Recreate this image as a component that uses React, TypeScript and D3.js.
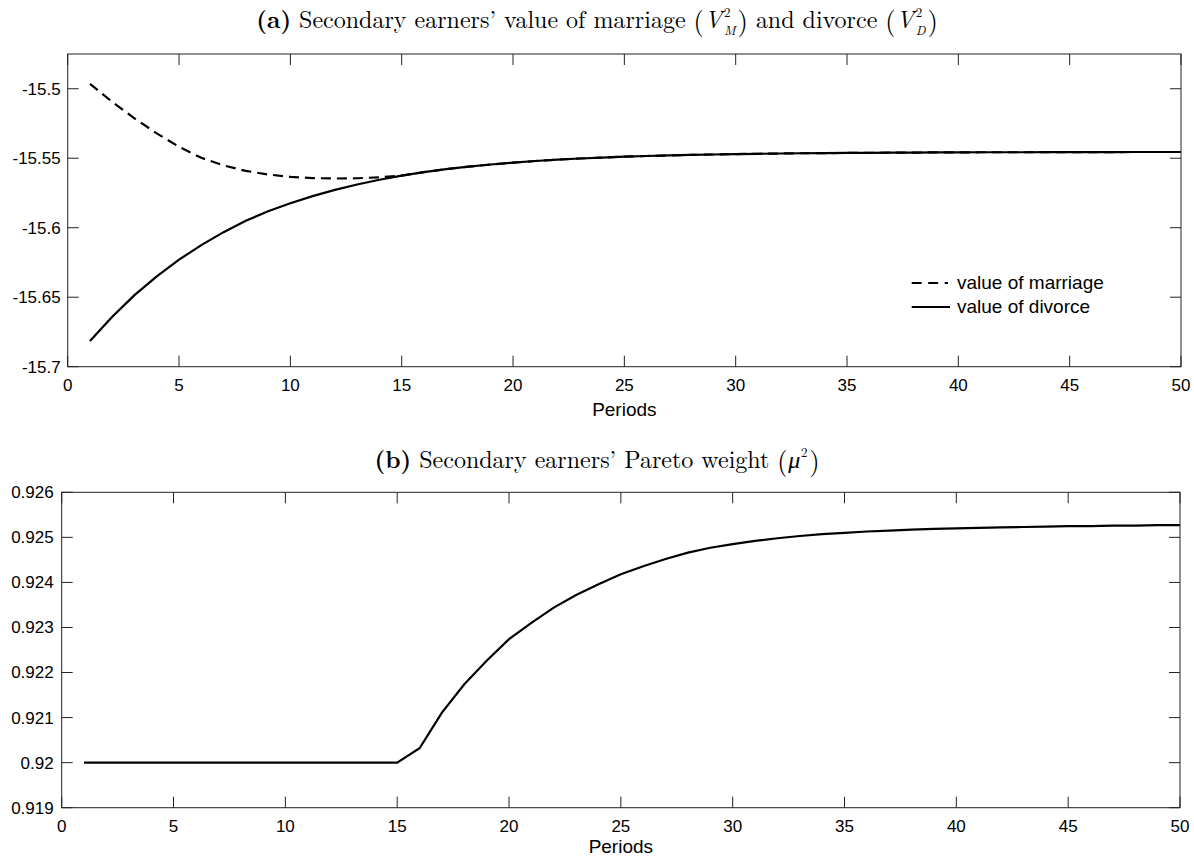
import React from "react";
import * as d3 from "d3";

const periods: number[] = d3.range(1, 51);

const valueMarriageEarly: number[] = [
  -15.4965, -15.5095, -15.5213, -15.5321, -15.5418, -15.5497, -15.5552,
  -15.5591, -15.5617, -15.5634, -15.5643, -15.5646, -15.5644, -15.5637,
];

const valueDivorce: number[] = [
  -15.6815, -15.664, -15.6485, -15.635, -15.623, -15.6125, -15.6032, -15.595,
  -15.5882, -15.5824, -15.5773, -15.5728, -15.5689, -15.5655, -15.5625,
  -15.56, -15.5578, -15.556, -15.5545, -15.5532, -15.552, -15.551, -15.5502,
  -15.5495, -15.5489, -15.5484, -15.548, -15.5476, -15.5473, -15.547,
  -15.5468, -15.5466, -15.5464, -15.5463, -15.5462, -15.5461, -15.546,
  -15.5459, -15.5458, -15.5458, -15.5457, -15.5457, -15.5457, -15.5456,
  -15.5456, -15.5456, -15.5456, -15.5455, -15.5455, -15.5455,
];

// marriage value coincides with divorce value once the constraint binds
const valueMarriage: number[] = [
  ...valueMarriageEarly,
  ...valueDivorce.slice(valueMarriageEarly.length),
];

const paretoWeight: number[] = [
  0.92, 0.92, 0.92, 0.92, 0.92, 0.92, 0.92, 0.92, 0.92, 0.92, 0.92, 0.92,
  0.92, 0.92, 0.92, 0.92032, 0.92111, 0.92174, 0.92226, 0.92274, 0.9231,
  0.92344, 0.92372, 0.92396, 0.92418, 0.92436, 0.92452, 0.92466, 0.92477,
  0.92485, 0.92492, 0.92498, 0.92503, 0.92507, 0.9251, 0.92513, 0.92515,
  0.92517, 0.92519, 0.9252, 0.92521, 0.92522, 0.92523, 0.92524, 0.92525,
  0.92525, 0.92526, 0.92526, 0.92527, 0.92527,
];

const xTicks: number[] = [0, 5, 10, 15, 20, 25, 30, 35, 40, 45, 50];
const yTicksA: number[] = [-15.7, -15.65, -15.6, -15.55, -15.5];
const yTickLabelsA: string[] = ["-15.7", "-15.65", "-15.6", "-15.55", "-15.5"];
const yTicksB: number[] = [0.919, 0.92, 0.921, 0.922, 0.923, 0.924, 0.925, 0.926];
const yTickLabelsB: string[] = ["0.919", "0.92", "0.921", "0.922", "0.923", "0.924", "0.925", "0.926"];
const legendLabels: string[] = ["value of marriage", "value of divorce"];

const W = 1194;
const H = 859;
const SANS = "'Liberation Sans', Arial, Helvetica, sans-serif";
const SERIF = "'Latin Modern Roman', 'CMU Serif', 'Liberation Serif', 'Times New Roman', serif";
const AXC = "#222";
const TICK = 11;
const TFS = 24;
const PFS = 26;
const SFS = 13;

type Piece = {
  t: string; size: number; italic?: boolean; bold?: boolean; base?: number; gap?: number;
  sup?: string; sub?: string; subItalic?: boolean;
};

let measureCtx: CanvasRenderingContext2D | null = null;
function measure(t: string, size: number, italic?: boolean, bold?: boolean): number {
  if (!measureCtx) measureCtx = document.createElement("canvas").getContext("2d");
  if (!measureCtx) return t.length * size * 0.5;
  measureCtx.font = `${italic ? "italic " : ""}${bold ? "bold " : ""}${size}px ${SERIF}`;
  return measureCtx.measureText(t).width;
}

function MathTitle({ pieces, cx, y }: { pieces: Piece[]; cx: number; y: number }) {
  const SPACE = measure(" ", TFS);
  const laid: { p: Piece; x: number }[] = [];
  let cur = 0;
  pieces.forEach((p) => {
    cur += (p.gap || 0) * SPACE;
    laid.push({ p, x: cur });
    if (p.sup !== undefined || p.sub !== undefined) {
      const w1 = p.sup ? measure(p.sup, SFS) : 0;
      const w2 = p.sub ? measure(p.sub, SFS, p.subItalic) : 0;
      cur += Math.max(w1, w2) + 1;
    } else {
      cur += measure(p.t, p.size, p.italic, p.bold);
    }
  });
  const x0 = cx - cur / 2;
  const out: React.ReactNode[] = [];
  laid.forEach(({ p, x }, i) => {
    if (p.sup !== undefined || p.sub !== undefined) {
      if (p.sup) out.push(<text key={i + "s"} x={x0 + x} y={y - 11} fontFamily={SERIF} fontSize={SFS}>{p.sup}</text>);
      if (p.sub) out.push(<text key={i + "b"} x={x0 + x} y={y + 7} fontFamily={SERIF} fontSize={SFS} fontStyle={p.subItalic ? "italic" : "normal"}>{p.sub}</text>);
    } else {
      out.push(
        <text key={i} x={x0 + x} y={y + (p.base || 0)} fontFamily={SERIF} fontSize={p.size}
          fontStyle={p.italic ? "italic" : "normal"} fontWeight={p.bold ? "bold" : "normal"}>{p.t}</text>
      );
    }
  });
  return <g fill="#000">{out}</g>;
}

const titleA: Piece[] = [
  { t: "(a)", size: TFS, bold: true },
  { t: "Secondary earners’ value of marriage", size: TFS, gap: 1 },
  { t: "(", size: PFS, base: 2, gap: 1 },
  { t: "V", size: TFS, italic: true, gap: 0.1 },
  { t: "", size: SFS, sup: "2", sub: "M", subItalic: true, gap: 0.2 },
  { t: ")", size: PFS, base: 2, gap: 0.15 },
  { t: "and divorce", size: TFS, gap: 1 },
  { t: "(", size: PFS, base: 2, gap: 1 },
  { t: "V", size: TFS, italic: true, gap: 0.1 },
  { t: "", size: SFS, sup: "2", sub: "D", subItalic: true, gap: 0.2 },
  { t: ")", size: PFS, base: 2, gap: 0.15 },
];

const titleB: Piece[] = [
  { t: "(b)", size: TFS, bold: true },
  { t: "Secondary earners’ Pareto weight", size: TFS, gap: 1 },
  { t: "(", size: PFS, base: 2, gap: 1 },
  { t: "μ", size: TFS, italic: true, gap: 0.1 },
  { t: "", size: SFS, sup: "2", gap: 0.1 },
  { t: ")", size: PFS, base: 2, gap: 0.1 },
];

type PanelProps = {
  left: number; right: number; top: number; bottom: number;
  yDomain: [number, number];
  yTicks: number[]; yLabels: string[]; labelGap: number; xLabelDy: number;
  children: (x: d3.ScaleLinear<number, number>, y: d3.ScaleLinear<number, number>) => React.ReactNode;
};

function Panel({ left, right, top, bottom, yDomain, yTicks, yLabels, labelGap, xLabelDy, children }: PanelProps) {
  const x = d3.scaleLinear().domain([0, 50]).range([left, right]);
  const y = d3.scaleLinear().domain(yDomain).range([bottom, top]);
  return (
    <g>
      {children(x, y)}
      <rect x={left} y={top} width={right - left} height={bottom - top} fill="none" stroke={AXC} strokeWidth={1} />
      {xTicks.map((t) => (
        <g key={"xt" + t}>
          <line x1={x(t)} x2={x(t)} y1={bottom} y2={bottom - TICK} stroke={AXC} />
          <line x1={x(t)} x2={x(t)} y1={top} y2={top + TICK} stroke={AXC} />
          <text x={x(t)} y={bottom + 24} textAnchor="middle" fontFamily={SANS} fontSize={17} fill="#000">{t}</text>
        </g>
      ))}
      {yTicks.map((v, i) => (
        <g key={"yt" + i}>
          <line x1={left} x2={left + TICK} y1={y(v)} y2={y(v)} stroke={AXC} />
          <line x1={right} x2={right - TICK} y1={y(v)} y2={y(v)} stroke={AXC} />
          <text x={left - labelGap} y={y(v)} dy="0.35em" textAnchor="end" fontFamily={SANS} fontSize={17} fill="#000">{yLabels[i]}</text>
        </g>
      ))}
      <text x={(left + right) / 2} y={bottom + xLabelDy} textAnchor="middle" fontFamily={SANS} fontSize={19} fill="#000">Periods</text>
    </g>
  );
}

export default function App() {
  const lineA = (x: d3.ScaleLinear<number, number>, y: d3.ScaleLinear<number, number>, vals: number[]) =>
    d3.line<number>().x((_, i) => x(periods[i])).y((d) => y(d))(vals) || "";

  return (
    <svg width={W} height={H} style={{ position: "absolute", left: 0, top: 0, background: "#fff" }}>
      <rect x={0} y={0} width={W} height={H} fill="#fff" />
      <MathTitle pieces={titleA} cx={597} y={28} />
      <MathTitle pieces={titleB} cx={597} y={468} />

      <Panel left={67.7} right={1181} top={54} bottom={366.7} yDomain={[-15.7, -15.475]}
        yTicks={yTicksA} yLabels={yTickLabelsA} labelGap={7} xLabelDy={49}>
        {(x, y) => (
          <g>
            <path d={lineA(x, y, valueMarriage)} fill="none" stroke="#000" strokeWidth={2.2} strokeDasharray="10,6" />
            <path d={lineA(x, y, valueDivorce)} fill="none" stroke="#000" strokeWidth={2.2} />
            <line x1={911.7} x2={948} y1={283} y2={283} stroke="#000" strokeWidth={2.2} strokeDasharray="10,6.5" />
            <line x1={911.7} x2={950} y1={307} y2={307} stroke="#000" strokeWidth={2.2} />
            <text x={957} y={283} dy="0.3em" fontFamily={SANS} fontSize={19} fill="#000">{legendLabels[0]}</text>
            <text x={957} y={307} dy="0.3em" fontFamily={SANS} fontSize={19} fill="#000">{legendLabels[1]}</text>
          </g>
        )}
      </Panel>

      <Panel left={61.7} right={1180} top={492.3} bottom={807.7} yDomain={[0.919, 0.926]}
        yTicks={yTicksB} yLabels={yTickLabelsB} labelGap={8} xLabelDy={45}>
        {(x, y) => (
          <path d={lineA(x, y, paretoWeight)} fill="none" stroke="#000" strokeWidth={2.2} />
        )}
      </Panel>
    </svg>
  );
}
